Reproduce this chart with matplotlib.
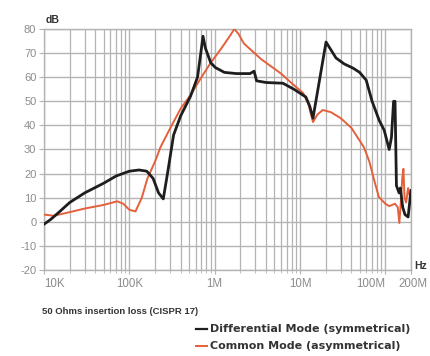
import numpy as np
import matplotlib
matplotlib.use("Agg")
import matplotlib.pyplot as plt
import matplotlib.transforms as mtransforms
from matplotlib.ticker import LogLocator, NullFormatter

# Differential mode (symmetrical): Hz, dB
diff_f = [10e3, 12e3, 15e3, 20e3, 30e3, 50e3, 70e3, 100e3, 130e3, 160e3, 190e3,
          220e3, 250e3, 280e3, 330e3, 400e3, 520e3, 630e3, 700e3, 730e3, 780e3,
          900e3, 1.02e6, 1.3e6, 1.8e6, 2.6e6, 2.9e6, 3.1e6, 4e6, 6.3e6, 8.5e6,
          11.7e6, 13e6, 14.2e6, 20.2e6, 26.4e6, 33e6, 41.7e6, 50e6, 59.7e6, 70e6,
          85e6, 97e6, 111e6, 118e6, 125e6, 130e6, 135e6, 145e6, 150e6, 160e6,
          170e6, 185e6, 200e6]
diff_db = [-1, 1, 4, 8, 12, 16, 19, 21, 21.5, 21, 18,
           12, 9.5, 20, 36, 44, 52, 60, 72, 77, 72,
           66, 64, 62, 61.5, 61.5, 62.5, 58.5, 57.8, 57.5, 55,
           51.8, 48, 43, 74.6, 68, 65.5, 63.8, 62, 58.8, 50,
           42, 38, 30, 35, 50, 50, 15, 12, 14, 6,
           3, 2, 13]

# Common mode (asymmetrical)
comm_f = [10e3, 13e3, 20e3, 30e3, 50e3, 72e3, 85e3, 100e3, 118e3, 140e3, 163e3,
          200e3, 232e3, 303e3, 400e3, 520e3, 700e3, 900e3, 1.2e6, 1.5e6, 1.7e6,
          1.9e6, 2.2e6, 3.5e6, 6e6, 8e6, 10.9e6, 12.5e6, 14.2e6, 16e6, 18.5e6,
          23e6, 30e6, 40e6, 56e6, 65e6, 74e6, 84e6, 100e6, 111e6, 130e6, 140e6,
          146e6, 152e6, 158e6, 163e6, 168e6, 175e6, 185e6, 195e6, 200e6]
comm_db = [3, 2.5, 4, 5.5, 7, 8.5, 7.5, 5, 4.3, 10, 18,
           25, 31, 39, 47, 52.5, 60, 66, 72, 77, 80,
           78, 74, 67.5, 61.5, 57.5, 53.4, 49, 41.4, 44.5, 46.4,
           45.5, 43, 39, 31, 25, 17.3, 10.3, 7.5, 6.5, 7.5, 6,
           -0.5, 8, 18, 22, 10, 8, 14, 10, 12]

x_ticks = [1e4, 1e5, 1e6, 1e7, 1e8, 2e8]
x_labels = ["10K", "100K", "1M", "10M", "100M", "200M"]
y_ticks = list(range(-20, 81, 10))
y_labels = [str(v) for v in y_ticks]

title = "50 Ohms insertion loss (CISPR 17)"
leg_diff = "Differential Mode (symmetrical)"
leg_comm = "Common Mode (asymmetrical)"

BLACK = "#1e1e1e"
ORANGE = "#e4603b"
GRID = "#b3b3b3"
TICKTXT = "#8c8c8c"
TXT = "#333333"

plt.rcParams["font.family"] = ["Liberation Sans", "DejaVu Sans"]

fig = plt.figure(figsize=(4.31, 3.56), dpi=100)
ax = fig.add_axes([44 / 431, 1 - 270 / 356, (411 - 44) / 431, (270 - 29) / 356])

ax.set_xscale("log")
ax.set_xlim(1e4, 2e8)
ax.set_ylim(-20, 80)

ax.xaxis.set_minor_locator(LogLocator(base=10, subs=np.arange(2, 10)))
ax.xaxis.set_minor_formatter(NullFormatter())
ax.set_xticks(x_ticks)
ax.set_xticklabels(x_labels)
ax.set_yticks(y_ticks)
ax.set_yticklabels(y_labels)

ax.grid(True, which="major", color=GRID, lw=1.0)
ax.grid(True, which="minor", axis="x", color=GRID, lw=0.9)
ax.set_axisbelow(True)

for s in ax.spines.values():
    s.set_color(GRID)
    s.set_linewidth(1.0)

ax.tick_params(axis="both", which="both", direction="out", color=GRID,
               labelcolor=TICKTXT)
ax.tick_params(axis="x", which="major", length=3, pad=3, labelsize=8.3)
ax.tick_params(axis="x", which="minor", length=2.5)
ax.tick_params(axis="y", length=3.5, pad=2, labelsize=8)

# nudge crowded x labels like the original
lbls = ax.get_xticklabels()
lbls[0].set_ha("left")
lbls[4].set_ha("right")
lbls[5].set_transform(lbls[5].get_transform() +
                      mtransforms.ScaledTranslation(2 / 100, 0, fig.dpi_scale_trans))

ax.plot(comm_f, comm_db, color=ORANGE, lw=1.4, zorder=3)
ax.plot(diff_f, diff_db, color=BLACK, lw=2.0, zorder=4)

ax.text(46 / 431, 1 - 20 / 356, "dB", transform=fig.transFigure, fontsize=7.5,
        fontweight="bold", color=TXT, va="center", ha="left")
ax.text(414 / 431, 1 - 266 / 356, "Hz", transform=fig.transFigure, fontsize=7.5,
        fontweight="bold", color=TXT, va="center", ha="left")

fig.text(42 / 431, 1 - 311 / 356, title, fontsize=6.8, fontweight="bold",
         color=TXT, va="center", ha="left")
fig.text(210 / 431, 1 - 329 / 356, leg_diff, fontsize=8.0, fontweight="bold",
         family=["DejaVu Sans"], color=TXT, va="center", ha="left")
fig.text(210 / 431, 1 - 346 / 356, leg_comm, fontsize=8.0, fontweight="bold",
         family=["DejaVu Sans"], color=TXT, va="center", ha="left")
fig.add_artist(plt.Line2D([196 / 431, 207 / 431], [1 - 329 / 356] * 2,
                          color=BLACK, lw=1.6))
fig.add_artist(plt.Line2D([196 / 431, 207 / 431], [1 - 346 / 356] * 2,
                          color=ORANGE, lw=1.4))

fig.savefig("out.png", dpi=100)
